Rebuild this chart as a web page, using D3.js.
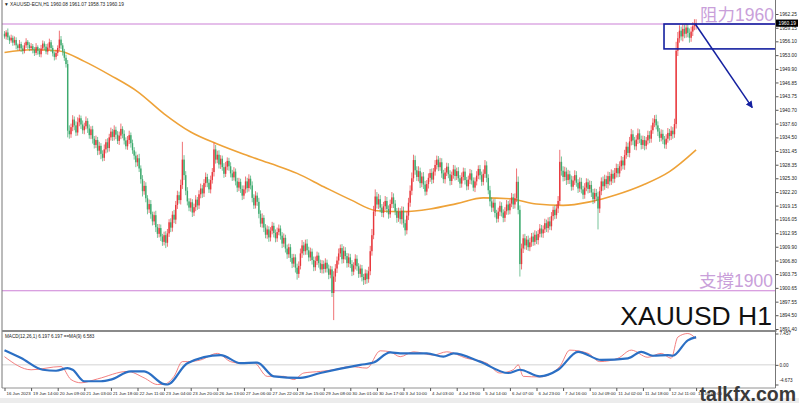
<!DOCTYPE html>
<html><head><meta charset="utf-8">
<script src="https://cdn.jsdelivr.net/npm/d3@7"></script>
<style>html,body{margin:0;padding:0;background:#fff;overflow:hidden}</style>
</head><body><svg id="c" width="799" height="403"></svg>
<script>
// ---------- DATA ----------
const firstOpen = 1957.8;
const closes = [
1957.2,1958.1,1957.0,1956.3,1956.9,1955.8,1956.4,1955.2,1954.6,1955.5,1954.5,1953.9,1955.2,1956.0,1955.3,1954.6,
1955.0,1954.2,1953.5,1954.8,1954.0,1953.2,1954.5,1955.6,1954.9,1953.8,1954.7,1955.9,1954.6,1953.4,1952.6,1953.5,
1954.6,1956.5,1955.2,1953.8,1952.4,1951.0,1936.0,1935.2,1936.8,1938.5,1937.2,1935.6,1937.9,1938.8,1937.4,1936.1,
1937.0,1938.2,1936.5,1935.0,1936.3,1934.2,1932.8,1933.9,1931.5,1932.6,1930.8,1929.9,1931.8,1933.4,1932.1,1934.5,
1935.8,1934.6,1936.2,1935.1,1933.7,1934.9,1936.4,1935.3,1933.8,1932.5,1933.9,1935.0,1933.2,1931.6,1930.4,1928.9,
1929.8,1927.5,1925.1,1922.4,1923.6,1920.8,1918.3,1919.5,1917.2,1915.6,1917.0,1914.3,1912.8,1914.1,1912.2,1911.0,
1912.5,1910.8,1912.9,1915.4,1914.2,1917.1,1916.0,1919.3,1921.5,1920.4,1923.8,1929.5,1926.0,1922.5,1920.1,1918.7,
1919.9,1917.6,1918.8,1920.5,1919.2,1921.7,1923.0,1921.9,1924.2,1925.6,1924.3,1922.8,1924.9,1926.7,1931.8,1929.5,
1930.6,1928.4,1929.7,1927.8,1926.3,1927.9,1929.2,1928.0,1926.4,1925.5,1926.8,1924.6,1923.2,1924.5,1922.9,1921.4,
1922.8,1924.6,1923.1,1925.2,1923.7,1920.9,1919.2,1921.4,1920.0,1917.3,1915.1,1916.4,1914.2,1912.6,1913.8,1912.0,
1913.5,1914.6,1913.0,1911.8,1913.2,1914.0,1912.4,1910.6,1911.9,1909.5,1908.2,1909.8,1907.4,1906.1,1907.5,1905.2,
1903.8,1905.6,1908.4,1910.2,1908.9,1910.6,1909.1,1907.5,1908.8,1906.9,1905.3,1906.7,1907.9,1906.2,1904.8,1906.0,
1904.9,1906.3,1905.0,1903.6,1904.8,1899.5,1903.2,1905.0,1906.8,1908.4,1909.6,1907.1,1909.0,1907.8,1906.2,1907.5,
1906.0,1904.3,1905.7,1907.2,1905.5,1903.8,1905.0,1903.1,1902.4,1903.9,1902.6,1904.4,1908.9,1912.5,1917.8,1921.2,
1919.4,1920.6,1918.7,1917.5,1919.0,1920.2,1918.4,1917.2,1919.5,1921.0,1919.6,1917.9,1916.4,1917.8,1916.1,1918.0,
1915.2,1913.6,1916.9,1919.8,1922.5,1925.3,1929.4,1927.1,1925.6,1926.9,1924.2,1925.7,1923.9,1922.3,1924.0,1925.4,
1926.5,1925.0,1926.8,1928.3,1929.5,1927.8,1928.9,1926.4,1925.1,1926.6,1927.9,1926.2,1924.7,1926.0,1927.3,1925.8,
1926.9,1925.3,1924.1,1925.6,1926.8,1924.9,1923.5,1925.0,1926.4,1924.8,1923.2,1924.6,1925.9,1927.4,1926.0,1924.5,
1926.3,1928.2,1925.4,1922.6,1920.1,1918.7,1919.8,1917.5,1916.2,1917.8,1919.1,1917.6,1916.4,1917.9,1919.4,1918.1,
1919.6,1921.0,1919.4,1920.8,1924.5,1918.2,1906.0,1909.5,1911.8,1910.2,1911.5,1909.8,1910.9,1912.2,1911.0,1912.6,
1911.4,1912.8,1914.0,1912.9,1913.8,1915.2,1914.1,1915.6,1914.5,1916.8,1918.2,1917.0,1918.5,1920.2,1929.0,1927.0,
1925.6,1926.8,1924.9,1926.2,1925.0,1923.4,1924.8,1926.0,1924.3,1923.0,1924.5,1922.8,1921.6,1923.2,1924.4,1922.9,
1923.8,1922.1,1920.6,1922.0,1921.2,1918.5,1922.4,1924.6,1923.5,1925.1,1924.0,1925.8,1924.6,1926.3,1925.2,1926.5,
1927.6,1926.4,1928.0,1929.3,1928.2,1930.5,1932.4,1931.0,1933.6,1935.2,1933.8,1932.5,1934.0,1935.4,1934.1,1932.8,
1933.9,1932.6,1933.8,1935.0,1934.2,1936.1,1937.8,1938.6,1937.2,1935.8,1934.4,1935.3,1934.0,1932.9,1934.2,1935.5,
1934.8,1936.0,1935.2,1937.5,1954.0,1956.8,1958.5,1957.2,1958.9,1957.8,1959.2,1958.0,1956.9,1958.3,1959.5,1960.08,1960.19
];
const hiWick = [
0.6,0.5,0.9,0.4,0.7,0.5,0.8,0.6,0.4,0.9,0.5,0.7,0.6,0.8,0.4,0.6,
0.7,0.5,0.6,0.9,0.4,0.6,0.8,0.7,0.5,0.6,0.9,0.8,0.5,0.6,0.4,0.7,
0.6,2.0,0.8,0.5,0.6,0.7,0.9,1.2,0.8,1.0,0.7,0.9,1.1,0.8,0.6,0.9,
0.8,1.0,0.6,0.9,0.7,0.8,0.6,1.0,0.7,0.9,0.6,0.8,1.1,0.7,0.9,0.8,
0.9,0.6,1.0,0.7,0.8,0.9,1.2,0.6,0.8,0.7,0.9,1.0,0.6,0.8,0.7,0.9,
0.8,1.0,0.7,0.9,1.1,0.8,0.7,1.0,0.9,0.6,0.8,1.0,0.7,0.9,0.8,0.6,
0.8,0.9,1.0,0.7,0.9,0.8,1.1,0.9,1.0,0.8,1.2,4.0,1.0,0.9,0.8,0.7,
0.9,0.7,0.8,1.0,0.6,0.9,1.1,0.8,0.9,1.0,0.7,0.8,1.0,0.9,1.5,1.0,
0.9,1.0,0.8,0.7,0.9,1.1,0.8,0.7,0.9,0.8,1.0,0.7,0.8,0.9,0.7,0.8,
0.9,1.1,0.8,1.0,0.7,0.9,0.8,1.0,0.7,0.9,0.8,1.0,0.6,0.8,0.9,0.7,
0.8,0.9,0.7,0.8,1.0,0.9,0.7,0.8,1.0,0.7,0.9,0.8,0.7,0.9,0.8,0.7,
0.9,1.0,1.1,1.2,0.8,0.9,1.0,0.8,0.9,0.7,0.8,1.0,0.9,0.7,0.8,0.9,
0.8,1.0,0.7,0.9,0.8,0.7,1.2,1.0,0.9,1.1,0.8,0.9,1.0,0.8,0.7,0.9,
0.8,0.9,0.7,1.0,0.8,0.7,0.9,0.8,0.7,0.9,0.8,1.0,1.2,1.4,1.3,1.6,
1.0,1.2,0.9,0.8,1.0,1.1,0.9,0.8,1.0,1.2,0.9,0.8,0.7,0.9,0.8,1.0,
0.9,0.8,1.0,1.1,1.2,1.3,1.2,1.0,0.9,1.1,0.8,0.9,1.0,0.8,0.9,1.0,
0.9,1.0,0.8,1.1,0.9,0.8,1.0,0.9,0.8,1.0,0.9,0.8,0.9,0.8,1.0,0.9,
0.8,0.9,0.7,1.0,0.9,0.8,0.7,0.9,1.0,0.8,0.7,0.9,1.0,0.8,0.9,0.8,
1.0,1.2,0.9,0.8,1.0,0.9,0.8,0.9,0.7,0.9,1.0,0.8,0.7,0.9,1.0,0.8,
0.9,1.0,0.8,1.1,3.0,1.2,1.0,1.1,0.9,1.0,0.8,0.9,1.0,0.8,0.9,1.0,
0.8,0.9,1.0,0.8,0.9,1.0,0.8,0.9,1.0,0.9,0.8,1.0,0.9,1.1,2.7,1.2,
1.0,1.1,0.9,1.0,0.8,0.9,1.0,1.1,0.9,0.8,1.0,0.9,0.8,1.0,0.9,0.8,
1.0,0.9,0.8,1.0,0.9,1.1,1.0,0.9,1.1,1.0,0.8,1.0,0.9,1.0,0.8,1.1,
1.0,0.9,1.1,1.0,0.8,1.2,1.1,0.9,1.0,1.2,0.9,0.8,1.0,1.1,0.9,0.8,
1.0,0.9,0.8,1.0,0.9,1.1,1.0,0.9,1.0,0.9,0.8,1.0,0.9,0.8,1.0,1.1,
0.9,1.0,0.8,1.2,2.0,1.4,1.2,0.9,1.1,1.0,0.9,0.8,1.0,1.1,0.9,0.99,0.88
];
const loWick = [
0.5,0.7,0.6,0.8,0.5,0.7,0.6,0.9,0.5,0.6,0.8,0.7,0.5,0.6,0.9,0.7,
0.6,0.8,0.7,0.5,0.9,0.6,0.7,0.5,0.8,0.6,0.7,0.5,0.9,0.7,0.8,0.6,
0.7,0.6,0.8,0.9,0.7,0.8,1.5,1.0,0.8,0.9,1.1,0.8,0.7,0.9,1.0,0.8,
0.9,0.7,1.0,0.8,0.9,1.1,0.8,0.7,1.0,0.9,1.2,0.8,0.7,0.9,1.0,0.8,
0.7,0.9,0.8,1.0,0.7,0.9,0.8,1.0,0.9,0.7,0.8,0.9,1.0,0.8,0.9,1.1,
0.9,0.8,1.0,1.2,0.8,0.9,1.1,0.8,1.0,0.9,0.8,1.1,0.9,0.8,1.0,0.9,
0.8,1.2,0.9,0.8,1.0,0.9,0.8,1.0,0.9,0.8,1.0,0.9,1.1,1.0,0.9,0.8,
0.9,1.0,0.8,0.9,1.0,0.8,0.9,1.0,0.8,0.9,1.0,0.8,0.9,0.8,1.0,0.9,
0.8,0.9,1.0,0.8,0.9,0.7,0.8,1.0,0.9,0.8,0.7,0.9,1.0,0.8,0.9,1.0,
0.8,0.9,1.0,0.8,0.9,1.0,0.8,0.7,0.9,1.0,0.8,0.9,1.0,0.8,0.9,1.0,
0.9,0.8,1.0,0.9,0.8,0.7,0.9,1.0,0.8,0.9,1.0,0.8,0.9,1.0,0.8,1.1,
1.3,0.9,0.8,1.0,0.9,0.8,1.0,0.9,0.8,1.0,0.9,0.8,0.9,1.0,0.8,0.9,
1.0,0.8,0.9,1.0,0.8,0.9,6.1,1.2,1.0,0.9,0.8,1.0,0.9,0.8,1.0,0.9,
0.9,1.0,0.8,0.9,1.0,0.9,0.8,1.0,1.1,0.9,1.0,0.8,0.9,1.0,0.9,1.0,
0.9,1.0,1.1,0.9,1.0,0.8,0.9,1.0,0.8,0.9,1.0,0.9,1.1,0.9,1.0,1.2,
1.0,1.2,0.9,1.0,0.9,1.0,0.8,1.0,0.9,1.0,1.1,0.9,1.0,0.9,0.8,1.0,
0.9,1.0,0.8,0.9,1.0,0.9,0.8,1.0,0.9,1.0,0.8,0.9,1.0,0.9,0.8,1.0,
0.9,0.8,1.0,0.9,0.8,1.0,0.9,0.8,1.0,0.9,0.8,1.0,0.9,0.8,1.0,0.9,
0.8,0.9,1.0,0.9,1.1,1.0,0.9,1.0,0.9,0.8,1.0,0.9,1.0,0.9,0.8,1.0,
0.9,0.8,1.0,0.9,0.8,1.0,2.8,1.2,1.0,0.9,1.0,0.8,0.9,1.0,0.9,0.8,
0.9,1.0,0.8,0.9,1.0,0.8,0.9,1.0,0.8,0.9,1.0,0.9,0.8,1.0,0.9,1.1,
1.0,0.9,1.1,0.9,1.0,0.9,0.8,1.0,0.9,1.0,0.8,0.9,1.0,0.9,0.8,1.0,
0.9,1.0,1.1,0.9,1.0,4.7,1.0,0.9,1.0,0.8,0.9,1.0,0.9,0.8,1.0,0.9,
1.0,0.9,0.8,1.0,0.9,1.0,0.8,0.9,1.0,0.9,1.0,0.8,0.9,1.0,0.9,1.0,
0.9,1.0,0.8,0.9,1.0,0.9,0.8,1.0,0.9,1.0,0.9,0.8,1.0,0.9,1.0,0.9,
1.0,0.9,1.0,0.8,1.0,1.2,1.0,0.9,1.1,1.0,0.9,1.0,1.1,0.9,1.0,0.9,1.35
];
const timeLabels = ["16 Jun 2023","19 Jun 14:00","20 Jun 09:00","21 Jun 03:00","21 Jun 18:00","22 Jun 11:00","23 Jun 04:00","23 Jun 20:00","26 Jun 13:00","27 Jun 06:00","27 Jun 22:00","28 Jun 15:00","29 Jun 08:00","30 Jun 01:00","30 Jun 17:00","3 Jul 10:00","4 Jul 03:00","4 Jul 19:00","5 Jul 14:00","6 Jul 07:00","6 Jul 23:00","7 Jul 16:00","10 Jul 09:00","11 Jul 02:00","11 Jul 18:00","12 Jul 11:00","13 Jul 03:00"];
const labelStep = 16;
const priceTicks = [1962.25,1959.15,1956.10,1953.00,1949.90,1946.85,1943.75,1940.70,1937.60,1934.50,1931.45,1928.35,1925.30,1922.20,1919.15,1916.05,1912.95,1909.90,1906.80,1903.75,1900.65,1897.55,1894.50,1891.40];
const maIdx = [0,16,32,48,64,80,96,112,128,144,160,176,192,208,224,240,256,272,288,304,320,336,352,368,384,400,416];
const maVal = [1953.6,1954.2,1954.0,1951.6,1948.4,1944.8,1939.8,1935.7,1933.0,1930.7,1928.6,1926.4,1923.4,1920.5,1918.0,1917.8,1918.4,1919.6,1920.9,1920.7,1919.5,1919.2,1920.0,1921.6,1923.8,1926.8,1931.7];
const macdIdx = [0,16,34,40,46,56,74,84,92,96,102,107,110,118,128,136,142,150,158,168,174,180,190,198,208,218,226,232,238,246,258,266,278,290,298,306,309,312,322,334,340,351,358,369,377,387,395,401,405,411,416];
const macdVal = [1.94,-1.17,-0.4,-3.5,-4.27,-3.34,-1.56,-3.1,-4.673,-4.6,-2.73,0.77,0.77,1.17,2.73,0.77,0.4,0.54,-2.73,-2.73,-3.5,-1.94,-1.56,-1.17,-0.4,-0.77,3.34,3.1,1.94,3.1,2.33,3.1,1.56,0.4,-1.94,-1.17,0.0,-2.73,-2.87,-0.4,3.5,2.73,0.77,1.56,3.5,1.8,2.73,1.56,6.6,7.457,6.197];
const sigIdx = [0,10,23,31,38,41,48,58,64,76,84,96,98,110,130,142,152,162,178,190,214,222,232,238,254,264,270,286,303,310,322,333,345,359,375,383,390,399,402,411,416];
const sigVal = [3.5,1.63,-1.17,-1.4,-0.77,-1.17,-3.9,-3.9,-3.5,-1.56,-1.56,-4.6,-4.673,0.4,2.33,0.4,0.54,-2.73,-3.1,-1.94,0.0,0.54,2.96,2.73,2.73,1.94,2.73,0.77,-1.94,-1.17,-2.73,-1.17,3.1,1.17,1.56,3.1,2.17,2.33,2.17,5.83,6.583];
const macdTicks = [7.457, 0, -4.673];
const macdTickText = ["7.457","0.00","-4.673"];
const resistance = 1960, support = 1900;
const resistanceText = "阻力1960", supportText = "支撐1900";
const lastPrice = 1960.19;
const header = "XAUUSD-ECN,H1 1960.08 1961.07 1958.73 1960.19";
const macdHeader = "MACD(12,26,1) 6.197 6.197  ==MA(9) 6.583";
const boxBars = [396.7, 465], boxPrices = [1960, 1954.4];
const arrowBars = [415.5, 449.8], arrowPrices = [1960, 1941.2];

// ---------- DRAW ----------
const svg = d3.select("#c");
const FONT = "'Liberation Sans', Arial, 'Noto Sans CJK SC', sans-serif";
const plotL = 2, plotR = 775.5, mainTop = 0, mainBot = 330, macdTop = 332, macdBot = 388;

const x = d3.scaleLinear().domain([0, 416]).range([4.5, 696.1]);
const y = d3.scaleLinear().domain([1891.40, 1962.25]).range([329, 14]);
const ym = d3.scaleLinear().domain([-4.673, 7.457]).range([384.5, 333.5]);

svg.append("rect").attr("x",0).attr("y",0).attr("width",799).attr("height",403).attr("fill","#fff");
svg.append("rect").attr("x",0).attr("y",398).attr("width",799).attr("height",5).attr("fill","#ececec");

const defs = svg.append("defs");
defs.append("clipPath").attr("id","cm").append("rect").attr("x",plotL).attr("y",mainTop).attr("width",plotR-plotL).attr("height",mainBot-mainTop);
defs.append("clipPath").attr("id","cd").append("rect").attr("x",plotL).attr("y",macdTop).attr("width",plotR-plotL).attr("height",macdBot-macdTop);
defs.append("marker").attr("id","ah").attr("viewBox","0 0 10 10").attr("refX",9).attr("refY",5)
  .attr("markerWidth",7).attr("markerHeight",7).attr("markerUnits","userSpaceOnUse").attr("orient","auto")
  .append("path").attr("d","M0,0 L10,5 L0,10 Z").attr("fill","#1420a0");

const main = svg.append("g").attr("clip-path","url(#cm)");

[resistance, support].forEach(v => {
  main.append("line").attr("x1",plotL).attr("x2",plotR).attr("y1",y(v)).attr("y2",y(v))
    .attr("stroke","#cc80d6").attr("stroke-width",1.2);
});

main.append("path").datum(maIdx.map((d,k)=>[d,maVal[k]]))
  .attr("d", d3.line().x(d=>x(d[0])).y(d=>y(d[1])).curve(d3.curveMonotoneX))
  .attr("fill","none").attr("stroke","#eea238").attr("stroke-width",1.6);

const bars = closes.map((c,i)=>{const o = i===0?firstOpen:closes[i-1];
  return {i,o,c,h:Math.max(o,c)+hiWick[i],l:Math.min(o,c)-loWick[i]};});
const up = "#e8363b", dn = "#3daa6e";
const cg = main.append("g");
cg.selectAll("line").data(bars).join("line")
  .attr("x1",d=>x(d.i)).attr("x2",d=>x(d.i)).attr("y1",d=>y(d.h)).attr("y2",d=>y(d.l))
  .attr("stroke",d=>d.c>=d.o?up:dn).attr("stroke-width",0.7);
cg.selectAll("rect").data(bars).join("rect")
  .attr("x",d=>x(d.i)-0.7).attr("width",1.4)
  .attr("y",d=>y(Math.max(d.o,d.c))).attr("height",d=>Math.max(0.6, Math.abs(y(d.o)-y(d.c))))
  .attr("fill",d=>d.c>=d.o?up:dn);

main.append("rect").attr("x",x(boxBars[0])).attr("y",y(boxPrices[0]))
  .attr("width",x(boxBars[1])-x(boxBars[0])).attr("height",y(boxPrices[1])-y(boxPrices[0]))
  .attr("fill","none").attr("stroke","#1420a0").attr("stroke-width",1.6);
svg.append("line").attr("x1",x(arrowBars[0])).attr("y1",y(arrowPrices[0]))
  .attr("x2",x(arrowBars[1])).attr("y2",y(arrowPrices[1]))
  .attr("stroke","#1420a0").attr("stroke-width",1.5).attr("marker-end","url(#ah)");

svg.append("text").attr("x",774).attr("y",y(resistance)-3.5).attr("text-anchor","end")
  .attr("font-family",FONT).attr("font-size",17.5).attr("fill","#c9a0da").text(resistanceText);
svg.append("text").attr("x",773).attr("y",y(support)-3.5).attr("text-anchor","end")
  .attr("font-family",FONT).attr("font-size",17.5).attr("fill","#c9a0da").text(supportText);
svg.append("text").attr("x",772).attr("y",325).attr("text-anchor","end")
  .attr("font-family",FONT).attr("font-size",26.5).attr("fill","#111").text("XAUUSD H1");
svg.append("text").attr("x",4).attr("y",6).attr("font-family",FONT).attr("font-size",4.8).attr("fill","#222").text("▼ " + header);

const md = svg.append("g").attr("clip-path","url(#cd)");
md.append("line").attr("x1",plotL).attr("x2",plotR).attr("y1",ym(0)).attr("y2",ym(0)).attr("stroke","#c8c8c8").attr("stroke-width",0.8);
md.append("path").datum(macdIdx.map((d,k)=>[d,macdVal[k]]))
  .attr("d", d3.line().x(d=>x(d[0])).y(d=>ym(d[1])).curve(d3.curveMonotoneX))
  .attr("fill","none").attr("stroke","#f07070").attr("stroke-width",0.9);
md.append("path").datum(sigIdx.map((d,k)=>[d,sigVal[k]]))
  .attr("d", d3.line().x(d=>x(d[0])).y(d=>ym(d[1])).curve(d3.curveMonotoneX))
  .attr("fill","none").attr("stroke","#2b6fc4").attr("stroke-width",2.2);
svg.append("text").attr("x",5).attr("y",338).attr("font-family",FONT).attr("font-size",4.6).attr("fill","#222").text(macdHeader);

svg.append("line").attr("x1",plotL).attr("x2",plotL).attr("y1",0).attr("y2",macdBot).attr("stroke","#777").attr("stroke-width",1);
svg.append("line").attr("x1",plotL).attr("x2",plotR+1).attr("y1",331).attr("y2",331).attr("stroke","#8a8a8a").attr("stroke-width",2);
svg.append("line").attr("x1",plotL).attr("x2",plotR).attr("y1",macdBot).attr("y2",macdBot).attr("stroke","#777").attr("stroke-width",0.8);

const ax = svg.append("g").attr("transform",`translate(${plotR},0)`)
  .call(d3.axisRight(y).tickValues(priceTicks).tickFormat(d=>d.toFixed(2)).tickSize(3).tickSizeOuter(0));
ax.select(".domain").remove();
ax.selectAll("text").attr("font-family",FONT).attr("font-size",4.8).attr("fill","#222").attr("x",4);
ax.selectAll("line").attr("stroke","#555");
svg.append("line").attr("x1",plotR).attr("x2",plotR).attr("y1",0).attr("y2",macdBot).attr("stroke","#777").attr("stroke-width",1);

svg.append("rect").attr("x",plotR+0.5).attr("y",y(lastPrice)-3.6).attr("width",22).attr("height",7.2).attr("fill","#000");
svg.append("text").attr("x",plotR+3).attr("y",y(lastPrice)).attr("dy","0.35em").attr("font-family",FONT)
  .attr("font-size",4.8).attr("fill","#fff").text(lastPrice.toFixed(2));

const mx = svg.append("g").attr("transform",`translate(${plotR},0)`)
  .call(d3.axisRight(ym).tickValues(macdTicks).tickFormat((d,k)=>macdTickText[k]).tickSize(3).tickSizeOuter(0));
mx.select(".domain").remove();
mx.selectAll("text").attr("font-family",FONT).attr("font-size",4.6).attr("fill","#222").attr("x",4)
  .attr("dy",(d,k)=>k===2?"-0.6em":"0.32em");
mx.selectAll("line").attr("stroke","#555");

const tIdx = timeLabels.map((t,k)=>k*labelStep);
const tx = svg.append("g").attr("transform",`translate(0,${macdBot})`)
  .call(d3.axisBottom(x).tickValues(tIdx).tickFormat((d,k)=>timeLabels[k]).tickSize(3).tickSizeOuter(0));
tx.select(".domain").remove();
tx.selectAll(".tick line").attr("stroke","#555");
tx.selectAll("text").attr("font-family",FONT).attr("font-size",4.4).attr("fill","#222")
  .attr("text-anchor","start").attr("x",1.5).attr("y",4).attr("dy","0.71em");

svg.append("text").attr("x",796).attr("y",400.5).attr("text-anchor","end").attr("font-family",FONT)
  .attr("font-weight","bold").attr("font-size",19.5).attr("fill","#3a3a3a").text("talkfx.com");
</script></body></html>
